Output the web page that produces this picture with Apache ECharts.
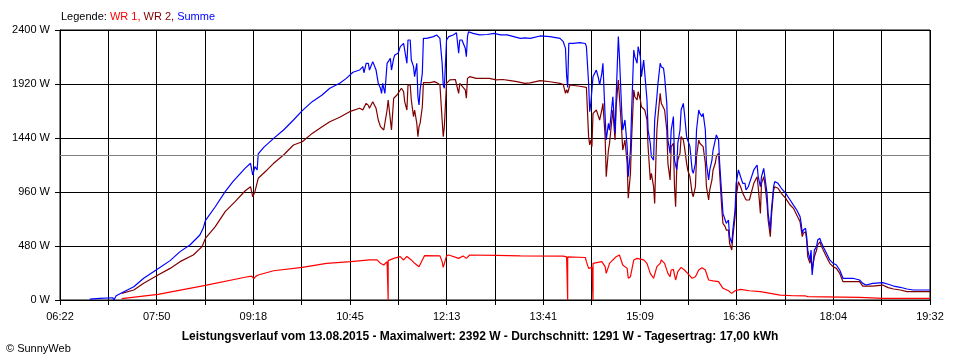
<!DOCTYPE html>
<html>
<head>
<meta charset="utf-8">
<script src="https://cdn.jsdelivr.net/npm/echarts@6/dist/echarts.min.js"></script>
<style>
html,body{margin:0;padding:0;background:#fff;}
#chart{width:960px;height:360px;}
</style>
</head>
<body>
<div id="chart"></div>
<script>
// Axis: 06:22 .. 19:32, 18 grid intervals, labels on every second line
const startTime = '06:22';
const endTime = '19:32';
const gridSteps = 18;
const yTicks = [0, 480, 960, 1440, 1920, 2400];
const averageWatts = 1291;

// WR 1
const wr1Times = ['07:18','07:51','08:34','09:10','09:16','09:18','09:20','09:22','09:36','10:02','10:24','10:46','11:03','11:10','11:13','11:14','11:16','11:19','11:20','11:20','11:25','11:31','11:34','11:37','11:41','11:44','11:48','11:51','11:53','12:07','12:09','12:10','12:13','12:15','12:24','12:28','12:31','12:34','12:58','13:20','13:59','14:02','14:03','14:03','14:19','14:20','14:22','14:25','14:26','14:26','14:34','14:37','14:38','14:41','14:44','14:47','14:50','14:53','14:57','14:58','15:00','15:03','15:06','15:09','15:12','15:15','15:18','15:21','15:24','15:27','15:28','15:31','15:34','15:36','15:37','15:39','15:40','15:41','15:43','15:46','15:49','15:52','15:56','15:59','16:02','16:05','16:08','16:11','16:15','16:20','16:24','16:29','16:32','16:35','16:40','16:48','16:58','17:07','17:16','17:28','17:39','17:41','18:28','18:49','19:32'];
const wr1Watts = [12,50,130,202,212,190,212,222,260,290,326,341,356,356,326,311,311,341,0,350,370,385,356,387,356,326,296,356,394,392,341,290,392,400,370,392,370,400,397,392,390,383,0,383,378,341,281,290,0,326,341,296,237,326,356,385,400,311,281,193,207,356,370,363,356,326,237,193,296,326,356,326,237,207,267,272,222,178,252,290,267,237,193,207,267,287,267,178,170,163,104,82,59,82,95,82,74,59,44,38,36,30,24,15,15];

// WR 2
const wr2Times = ['07:18','07:29','07:38','07:51','08:02','08:11','08:23','08:31','08:34','08:43','08:52','09:01','09:10','09:15','09:16','09:17','09:19','09:22','09:30','09:36','09:45','09:54','10:02','10:11','10:20','10:27','10:36','10:45','10:54','10:57','11:00','11:02','11:03','11:06','11:09','11:11','11:13','11:14','11:16','11:19','11:20','11:22','11:23','11:25','11:28','11:29','11:32','11:34','11:35','11:37','11:38','11:40','11:41','11:43','11:44','11:46','11:47','11:48','11:49','11:51','11:52','11:58','12:02','12:05','12:07','12:09','12:10','12:11','12:13','12:16','12:21','12:24','12:25','12:30','12:31','12:32','12:34','12:40','12:46','12:52','12:58','13:04','13:11','13:17','13:24','13:29','13:38','13:47','13:56','13:59','14:01','14:02','14:03','14:05','14:14','14:20','14:22','14:23','14:24','14:25','14:26','14:29','14:31','14:32','14:34','14:35','14:37','14:38','14:40','14:41','14:44','14:46','14:47','14:49','14:50','14:52','14:53','14:55','14:57','14:58','15:00','15:01','15:03','15:04','15:06','15:07','15:09','15:10','15:13','15:15','15:16','15:18','15:19','15:21','15:22','15:23','15:24','15:25','15:27','15:28','15:31','15:33','15:34','15:36','15:37','15:39','15:40','15:41','15:42','15:43','15:45','15:46','15:48','15:49','15:51','15:52','15:54','15:56','15:57','15:59','16:00','16:02','16:03','16:06','16:08','16:09','16:11','16:12','16:14','16:15','16:17','16:18','16:20','16:21','16:23','16:24','16:26','16:27','16:29','16:30','16:32','16:33','16:35','16:36','16:38','16:40','16:42','16:45','16:48','16:52','16:55','16:56','16:58','16:59','17:01','17:02','17:04','17:05','17:07','17:08','17:10','17:11','17:14','17:17','17:21','17:25','17:28','17:31','17:34','17:36','17:37','17:39','17:40','17:41','17:43','17:44','17:45','17:47','17:49','17:50','17:52','17:53','17:55','17:58','18:01','18:04','18:07','18:10','18:13','18:22','18:28','18:31','18:40','18:49','18:54','18:59','19:05','19:11','19:32'];
const wr2Watts = [59,89,148,222,281,341,400,474,548,652,785,874,969,1007,1015,918,963,1082,1156,1215,1289,1378,1407,1481,1541,1585,1624,1674,1704,1690,1748,1730,1704,1763,1704,1600,1541,1541,1511,1689,1778,1600,1511,1793,1822,1807,1882,1852,1763,1689,1911,1911,1778,1630,1689,1570,1452,1541,1570,1718,1933,1933,1941,1926,1911,1600,1452,1541,1926,1956,1960,1837,1926,1867,1793,1970,1985,1970,1970,1970,1956,1960,1950,1941,1926,1930,1950,1940,1926,1915,1837,1870,1840,1911,1900,1890,1452,1378,1420,1363,1659,1689,1630,1600,1689,1748,1452,1096,1333,1393,1689,1422,1719,1956,1807,1511,1333,1422,1215,904,1126,1422,1867,1807,1778,1852,1778,1718,1689,1600,1363,1067,1126,1007,859,1215,1511,1630,1837,1748,1689,1511,1215,1067,1363,1393,1007,829,1156,1244,1304,1452,1422,1363,1215,1156,1096,948,918,1007,1274,1422,1393,1363,1215,1007,889,978,1067,1156,1215,1274,1304,1126,800,681,652,622,622,504,444,563,741,918,1052,1007,948,889,889,1037,1096,1007,770,1037,1096,1037,859,711,563,741,978,1007,993,948,904,844,815,756,696,563,593,607,533,385,326,385,267,385,444,489,518,489,444,385,326,296,281,237,163,163,163,124,124,133,110,98,89,74,74];

// Summe
const sumTimes = ['06:49','06:58','07:10','07:11','07:13','07:20','07:29','07:38','07:51','08:02','08:11','08:20','08:29','08:32','08:34','08:43','08:52','08:59','09:10','09:15','09:16','09:17','09:19','09:21','09:22','09:27','09:36','09:45','09:54','10:02','10:11','10:20','10:27','10:36','10:42','10:48','10:54','10:57','10:58','11:00','11:02','11:03','11:06','11:09','11:11','11:13','11:14','11:15','11:17','11:19','11:22','11:23','11:25','11:26','11:29','11:31','11:32','11:34','11:35','11:37','11:38','11:40','11:41','11:43','11:44','11:46','11:47','11:48','11:49','11:51','11:52','11:55','12:01','12:04','12:07','12:09','12:10','12:11','12:13','12:15','12:19','12:22','12:24','12:25','12:27','12:30','12:31','12:32','12:33','12:37','12:43','12:50','12:56','13:02','13:08','13:14','13:20','13:24','13:29','13:38','13:47','13:56','13:59','14:01','14:02','14:03','14:04','14:08','14:14','14:19','14:20','14:22','14:23','14:24','14:26','14:29','14:31','14:32','14:34','14:35','14:37','14:38','14:40','14:41','14:44','14:46','14:47','14:49','14:50','14:52','14:53','14:55','14:57','14:58','15:00','15:01','15:03','15:04','15:06','15:07','15:09','15:10','15:12','15:13','15:15','15:16','15:18','15:19','15:21','15:22','15:24','15:25','15:27','15:28','15:30','15:31','15:33','15:34','15:36','15:37','15:39','15:40','15:42','15:43','15:45','15:46','15:48','15:49','15:51','15:52','15:54','15:56','15:57','15:59','16:00','16:02','16:03','16:05','16:06','16:08','16:09','16:11','16:12','16:14','16:15','16:17','16:18','16:20','16:21','16:23','16:24','16:26','16:27','16:29','16:30','16:32','16:33','16:35','16:36','16:38','16:40','16:41','16:42','16:44','16:45','16:47','16:48','16:52','16:55','16:56','16:58','16:59','17:01','17:02','17:04','17:05','17:07','17:08','17:10','17:11','17:14','17:17','17:21','17:25','17:28','17:31','17:34','17:35','17:36','17:37','17:39','17:40','17:41','17:43','17:44','17:45','17:46','17:47','17:49','17:50','17:52','17:53','17:55','17:58','18:01','18:04','18:07','18:10','18:13','18:16','18:22','18:28','18:31','18:34','18:40','18:49','18:54','18:59','19:05','19:11','19:17','19:23','19:32'];
const sumWatts = [8,15,20,0,38,74,118,193,278,350,430,489,578,637,705,829,963,1052,1170,1215,1230,1111,1185,1156,1298,1357,1437,1511,1600,1683,1763,1822,1882,1926,1970,2024,2044,2074,2020,2104,2104,2044,2119,2044,1926,1882,1837,1926,1837,2104,2148,2044,2148,2178,2193,2252,2267,2281,2222,2104,2311,2311,2133,2074,1985,2104,1807,1733,1867,2015,2326,2326,2341,2356,2326,2104,1911,1882,2311,2341,2356,2376,2193,2311,2311,2237,2163,2341,2385,2370,2356,2360,2370,2356,2356,2341,2326,2330,2326,2347,2341,2326,2296,2237,2000,1890,2281,2281,2287,2280,2252,1926,1674,1750,1985,2044,1970,1911,2015,2104,1630,1422,1570,1510,1807,1480,1807,2341,2163,1689,1511,1600,1363,1096,1333,1659,2222,2163,2104,2252,2163,1985,2133,2015,1778,1511,1393,1274,1244,1600,1807,1926,2104,2074,2060,1985,1748,1422,1304,1510,1630,1244,1156,1393,1511,1689,1748,1660,1452,1422,1363,1156,1126,1215,1511,1689,1659,1630,1659,1511,1215,1067,1156,1244,1333,1422,1467,1422,1215,918,770,711,681,711,563,504,622,800,1037,1156,1096,1096,1037,1037,978,1007,1037,1156,1200,1096,1007,1096,1170,1096,948,770,622,800,1007,1052,1037,993,948,889,844,800,741,681,593,622,637,563,444,356,444,222,326,444,474,533,548,518,474,415,356,326,311,267,193,193,193,178,148,133,148,154,140,124,113,98,89,89,89];

function toMinutes(t) { const p = t.split(':'); return (+p[0]) * 60 + (+p[1]); }
const startMin = toMinutes(startTime);
const spanMin = toMinutes(endTime) - startMin;
function toX(t) { return (toMinutes(t) - startMin) * gridSteps / spanMin; }
function pad(n) { return (n < 10 ? '0' : '') + n; }
function pairs(times, vals) { return times.map((t, i) => [toX(t), vals[i]]); }

const font = '"Liberation Sans", Arial, sans-serif';

const chart = echarts.init(document.getElementById('chart'), null, {renderer: 'canvas'});
chart.setOption({
  animation: false,
  backgroundColor: '#ffffff',
  title: [
    {
      text: '{k|Legende: }{a|WR 1, }{b|WR 2, }{c|Summe}',
      left: 61, top: 11, padding: 0,
      textStyle: {
        fontFamily: font, fontSize: 11, fontWeight: 'normal',
        rich: {
          k: {color: '#000000', fontFamily: font, fontSize: 11},
          a: {color: '#ff0000', fontFamily: font, fontSize: 11},
          b: {color: '#800000', fontFamily: font, fontSize: 11},
          c: {color: '#0000ff', fontFamily: font, fontSize: 11}
        }
      }
    },
    {
      text: 'Leistungsverlauf vom 13.08.2015 - Maximalwert: 2392 W - Durchschnitt: 1291 W - Tagesertrag: 17,00 kWh',
      left: 'center', top: 331, padding: 0,
      textStyle: {fontFamily: font, fontSize: 12, fontWeight: 'bold', color: '#000'}
    },
    {
      text: '© SunnyWeb',
      left: 6, top: 343, padding: 0,
      textStyle: {fontFamily: font, fontSize: 11, fontWeight: 'normal', color: '#000'}
    }
  ],
  grid: {left: 60, right: 30, top: 30, bottom: 60, show: true, borderColor: '#000', borderWidth: 1, backgroundColor: 'transparent'},
  xAxis: {
    type: 'value', min: 0, max: gridSteps, interval: 1,
    axisLine: {show: true, lineStyle: {color: '#000', width: 1}},
    axisTick: {show: true, length: 5, lineStyle: {color: '#000'}},
    splitLine: {show: true, lineStyle: {color: '#000', width: 1}},
    axisLabel: {
      margin: 11, color: '#000', fontFamily: font, fontSize: 11,
      showMinLabel: true, showMaxLabel: true,
      formatter: function (v) {
        const k = Math.round(v);
        if (k % 2 !== 0) return '';
        const m = Math.round(startMin + v * spanMin / gridSteps);
        return pad(Math.floor(m / 60)) + ':' + pad(m % 60);
      }
    }
  },
  yAxis: {
    type: 'value', min: yTicks[0], max: yTicks[yTicks.length - 1], interval: yTicks[1] - yTicks[0],
    axisLine: {show: true, lineStyle: {color: '#000', width: 1}},
    axisTick: {show: true, length: 5, lineStyle: {color: '#000'}},
    splitLine: {show: true, lineStyle: {color: '#000', width: 1}},
    axisLabel: {margin: 10, color: '#000', fontFamily: font, fontSize: 11, formatter: v => v + ' W'}
  },
  series: [
    {
      name: 'WR 1', type: 'line', data: pairs(wr1Times, wr1Watts), symbol: 'none', showSymbol: false,
      lineStyle: {color: '#ff0000', width: 1.2}, itemStyle: {color: '#ff0000'},
      markLine: {
        silent: true, symbol: 'none', label: {show: false},
        lineStyle: {color: '#808080', width: 1, type: 'solid'},
        data: [{yAxis: averageWatts}]
      }
    },
    {
      name: 'WR 2', type: 'line', data: pairs(wr2Times, wr2Watts), symbol: 'none', showSymbol: false,
      lineStyle: {color: '#800000', width: 1.2}, itemStyle: {color: '#800000'}
    },
    {
      name: 'Summe', type: 'line', data: pairs(sumTimes, sumWatts), symbol: 'none', showSymbol: false,
      lineStyle: {color: '#0000ff', width: 1.2}, itemStyle: {color: '#0000ff'}
    }
  ]
});
</script>
</body>
</html>
